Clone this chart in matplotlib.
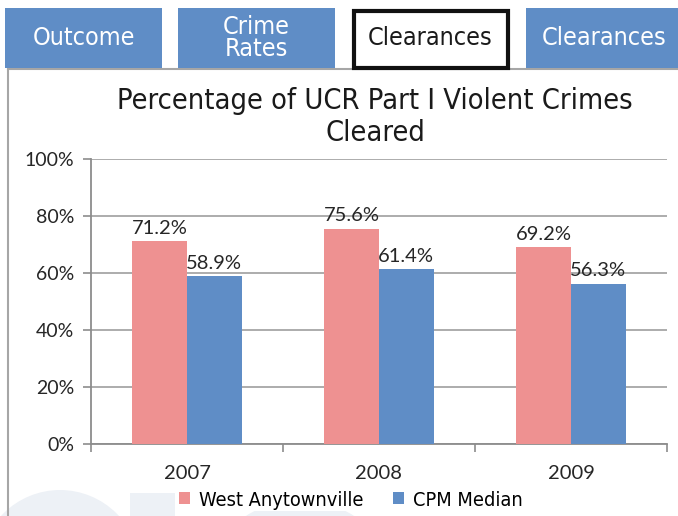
import matplotlib
matplotlib.use("Agg")
import matplotlib.pyplot as plt
from matplotlib.patches import Rectangle, Ellipse, Patch
import numpy as np

years = ["2007", "2008", "2009"]
west = [71.2, 75.6, 69.2]
cpm = [58.9, 61.4, 56.3]
series_names = ["West Anytownville", "CPM Median"]
title = "Percentage of UCR Part I Violent Crimes\nCleared"
tabs = ["Outcome", "Crime\nRates", "Clearances", "Clearances"]
yticks = [0, 20, 40, 60, 80, 100]

W, H = 678, 516
RED = "#EE9191"
BLUE = "#5F8DC6"
TAB = "#5F8DC6"
NARROW = ["DejaVu Sans"]
TICKF = ["Lato", "DejaVu Sans"]
WM = "#EDF1F6"

fig = plt.figure(figsize=(W / 100, H / 100), dpi=100)

def fx(x):
    return x / W

def fy(y):
    return 1 - y / H

# faint watermark shapes (pixel-sized)
def circle_px(cx, cy, r):
    fig.add_artist(Ellipse((fx(cx), fy(cy)), 2 * r / W, 2 * r / H, transform=fig.transFigure,
                           facecolor=WM, edgecolor="none", zorder=0))

circle_px(60, 570, 80)
circle_px(300, 600, 100)
fig.add_artist(Rectangle((fx(130), fy(516)), fx(45), 23 / H, transform=fig.transFigure,
                         facecolor=WM, edgecolor="none", zorder=0))

# chart frame lines
fig.add_artist(plt.Line2D([fx(8), fx(8)], [fy(69), fy(516)], transform=fig.transFigure,
                          color="#A6A6A6", lw=1.5, zorder=1))
fig.add_artist(plt.Line2D([fx(8), fx(678)], [fy(69), fy(69)], transform=fig.transFigure,
                          color="#A6A6A6", lw=1.5, zorder=1))

# tabs
tab_x = [5, 178, 352, 526]
tab_w = 157
for i, (x0, lab) in enumerate(zip(tab_x, tabs)):
    if i == 2:
        fig.add_artist(Rectangle((fx(x0 + 1.5), fy(68)), fx(tab_w - 3), (68 - 11) / H,
                                 transform=fig.transFigure, facecolor="white",
                                 edgecolor="#111111", lw=3, zorder=3))
        col = "#1a1a1a"
    else:
        fig.add_artist(Rectangle((fx(x0), fy(68)), fx(tab_w), (68 - 8) / H,
                                 transform=fig.transFigure, facecolor=TAB,
                                 edgecolor="none", zorder=3))
        col = "white"
    fig.text(fx(x0 + tab_w / 2), fy(38), lab, ha="center", va="center",
             fontsize=18, color=col, family=NARROW, fontstretch="condensed",
             zorder=4, linespacing=0.9)

# axes
ax = fig.add_axes([fx(91), fy(444), fx(667 - 91), (444 - 159) / H])
x = np.arange(len(years))
bw = 0.284
b1 = ax.bar(x - bw / 2, west, bw, color=RED, zorder=3)
b2 = ax.bar(x + bw / 2, cpm, bw, color=BLUE, zorder=3)
for bars, vals in ((b1, west), (b2, cpm)):
    for b, v in zip(bars, vals):
        ax.annotate(f"{v:.1f}%", (b.get_x() + b.get_width() / 2, v),
                    xytext=(0, 3), textcoords="offset points", ha="center",
                    va="bottom", fontsize=14.5, color="#262626", family=TICKF)

ax.set_ylim(0, 100)
ax.set_xlim(-0.5, 2.5)
ax.set_yticks(yticks)
ax.set_yticklabels([f"{v}%" for v in yticks], family=TICKF, fontsize=14, color="#262626")
ax.set_xticks(x)
ax.set_xticklabels(years, family=TICKF, fontsize=14.5, color="#262626")
ax.set_xticks([-0.5, 0.5, 1.5, 2.5], minor=True)
ax.tick_params(axis="x", which="major", length=0, pad=15)
ax.tick_params(axis="x", which="minor", length=6, color="#8C8C8C", width=1.2, direction="out")
ax.tick_params(axis="y", length=6, color="#8C8C8C", width=1.2, direction="out", pad=6)
ax.yaxis.grid(True, color="#A6A6A6", lw=1.3, zorder=0)
for s in ("top", "right"):
    ax.spines[s].set_visible(False)
for s in ("left", "bottom"):
    ax.spines[s].set_color("#8C8C8C")
    ax.spines[s].set_linewidth(1.3)
ax.set_facecolor("none")

fig.text(fx(375), fy(117), title, ha="center", va="center", fontsize=20.8,
         color="#1a1a1a", family=NARROW, fontstretch="condensed", linespacing=1.17)

handles = [Patch(facecolor=RED), Patch(facecolor=BLUE)]
leg = fig.legend(handles, series_names, loc="center", bbox_to_anchor=(fx(351), fy(500)),
                 ncol=2, frameon=True, facecolor="white", edgecolor="none", framealpha=1,
                 borderpad=0.1,
                 prop={"family": NARROW, "size": 14.3, "stretch": "condensed"},
                 handlelength=0.55, handleheight=0.55, handletextpad=0.45, columnspacing=1.5)

fig.savefig("out.png", dpi=100)
